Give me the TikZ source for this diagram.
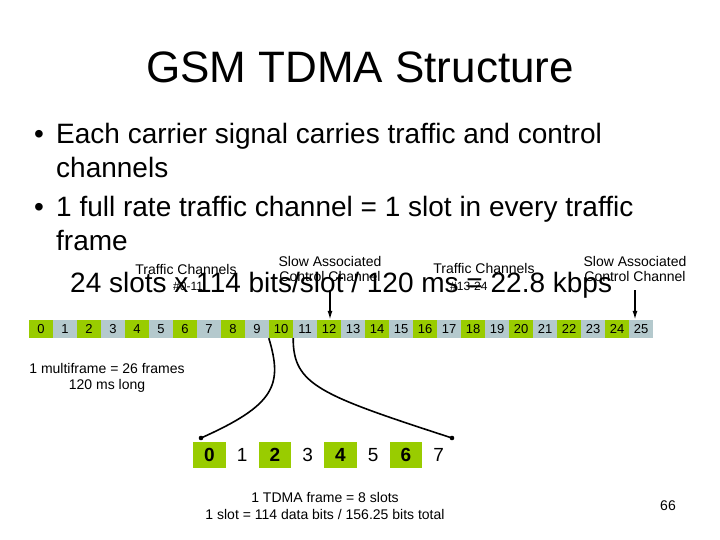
\documentclass[tikz,border=0pt]{standalone}
\usepackage{fontspec}
\setmainfont{Liberation Sans}
\definecolor{slotgreen}{HTML}{99CC00}
\definecolor{slotgray}{HTML}{B4C9CD}
\usetikzlibrary{positioning,calc,arrows.meta}

\begin{document}
\begin{tikzpicture}[x=1pt,y=-1pt,
  txt/.style={inner sep=0pt,anchor=base west,font=\fontsize{28}{34}\selectfont},
  small/.style={inner sep=0pt,anchor=base,font=\fontsize{14}{16}\selectfont},
  tiny/.style={inner sep=0pt,anchor=base west,font=\fontsize{12}{14}\selectfont},
  bar/.style={minimum width=24pt,minimum height=18pt,inner sep=0pt,font=\fontsize{13}{15}\selectfont},
  frm/.style={minimum width=33pt,minimum height=26pt,inner sep=0pt,font=\fontsize{19}{22}\selectfont},
  link/.style={line width=1.6pt},
  pointer/.style={line width=1.5pt,-{Latex[length=9pt,width=5pt]},shorten <=9pt}]
\fill[white] (0,0) rectangle (720,540);
\useasboundingbox (0,0) rectangle (720,540);
\node[inner sep=0pt,anchor=base,font=\fontsize{44}{50}\selectfont] (title) at (360,83) {GSM TDMA Structure};
% bullets
\node[txt] (b1) at (34,144) {\textbullet};
\node[txt] (l1) at (56,144) {Each carrier signal carries traffic and control};
\node[txt] (l2) at (56,178) {channels};
\node[txt] (b2) at (34,216) {\textbullet};
\node[txt] (l3) at (56,216) {1 full rate traffic channel = 1 slot in every traffic};
\node[txt] (l4) at (56,250) {frame};
\node[txt] (l5) at (70,292) {24 slots x 114 bits/slot / 120 ms = 22.8 kbps};
% channel labels
\node[small] (tch1) at (186,274) {Traffic Channels};
\node[tiny] (tn1) at (173,290) {\#0-11};
\node[small] (sa1) at (330,266) {Slow Associated};
\node[small] (cc1) at (330,281) {Control Channel};
\node[small] (tch2) at (484,273) {Traffic Channels};
\node[tiny] (tn2) at (450,290) {\#13-24};
\node[small] (sa2) at (635,266) {Slow Associated};
\node[small] (cc2) at (635,281) {Control Channel};
% multiframe
\foreach \i in {0,...,25}{
  \ifodd\i\def\col{slotgray}\else\def\col{slotgreen}\fi
  \node[bar,fill=\col] (s\i) at ({41+24*\i},329) {\i};
}
\draw[pointer] (cc1.south) -- (cc1.south |- s12.north);
\draw[pointer] (cc2.south) -- (cc2.south |- s25.north);
\node[small] (mf1) at (107,373) {1 multiframe = 26 frames};
\node[small] (mf2) at (107,389) {120 ms long};
% one frame
\foreach \i in {0,...,7}{
  \ifodd\i\def\col{white}\def\wt{}\else\def\col{slotgreen}\def\wt{\bfseries}\fi
  \node[frm,fill=\col] (f\i) at ({209.5+32.75*\i},455) {\wt\i};
}
\coordinate (d0) at (201,438);
\coordinate (d7) at (452,438);
\draw[link] (s10.south west) .. controls (283,385) and (275,405) .. (d0);
\draw[link] (s10.south east) .. controls (293,385) and (320,395) .. (d7);
\fill (d0) circle (2.3);
\fill (d7) circle (2.3);
\node[small] (tf1) at (325,502) {1 TDMA frame = 8 slots};
\node[small] (tf2) at (325,519) {1 slot = 114 data bits / 156.25 bits total};
\node[small] (pg) at (668,510) {66};
\end{tikzpicture}
\end{document}
